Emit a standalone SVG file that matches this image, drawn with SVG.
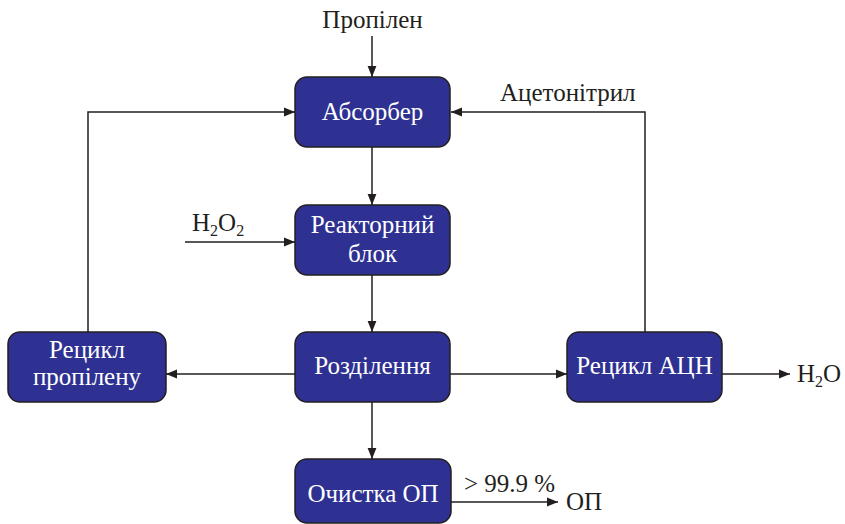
<svg xmlns="http://www.w3.org/2000/svg" width="845" height="524" viewBox="0 0 845 524">
<defs>
<marker id="ah" viewBox="0 0 10 10" refX="10" refY="5" markerWidth="11" markerHeight="11" markerUnits="userSpaceOnUse" orient="auto">
<path d="M0,1 L10,5 L0,9 Z" fill="#231f20"/>
</marker>
<style>
.box{fill:#2e3192;stroke:#231f20;stroke-width:1.5}
.ln{fill:none;stroke:#231f20;stroke-width:1.5;marker-end:url(#ah)}
</style>
</defs>
<rect width="845" height="524" fill="#ffffff"/>
<g id="connectors">
<path class="ln" d="M372,36 V77"/>
<path class="ln" d="M372,147 V205"/>
<path class="ln" d="M372,275 V332"/>
<path class="ln" d="M372,402 V459"/>
<path class="ln" d="M185,242 H295"/>
<path class="ln" d="M88,332 V112 H295"/>
<path class="ln" d="M645,332 V112 H451"/>
<path class="ln" d="M295,374 H166"/>
<path class="ln" d="M450,374 H567"/>
<path class="ln" d="M722,374 H790"/>
<path class="ln" d="M451,502 H558"/>
</g>
<g id="absorber">
<rect class="box" x="295" y="77" width="155" height="70" rx="12"/>
<text x="372.5" y="120" font-family="Liberation Serif" font-size="25" fill="#ffffff" text-anchor="middle">Абсорбер</text>
</g>
<g id="reactor">
<rect class="box" x="295" y="205" width="155" height="70" rx="12"/>
<text x="372.5" y="233" font-family="Liberation Serif" font-size="25" fill="#ffffff" text-anchor="middle">Реакторний</text>
<text x="372.5" y="262" font-family="Liberation Serif" font-size="25" fill="#ffffff" text-anchor="middle">блок</text>
</g>
<g id="separation">
<rect class="box" x="295" y="332" width="155" height="70" rx="12"/>
<text x="372.5" y="374" font-family="Liberation Serif" font-size="25" fill="#ffffff" text-anchor="middle">Розділення</text>
</g>
<g id="recycle-propylene">
<rect class="box" x="8" y="332" width="158" height="70" rx="12"/>
<text x="87" y="358" font-family="Liberation Serif" font-size="25" fill="#ffffff" text-anchor="middle">Рецикл</text>
<text x="87" y="385" font-family="Liberation Serif" font-size="25" fill="#ffffff" text-anchor="middle">пропілену</text>
</g>
<g id="recycle-acn">
<rect class="box" x="567" y="332" width="155" height="70" rx="12"/>
<text x="644.5" y="374" font-family="Liberation Serif" font-size="25" fill="#ffffff" text-anchor="middle">Рецикл АЦН</text>
</g>
<g id="purification">
<rect class="box" x="295" y="459" width="156" height="64" rx="12"/>
<text x="373" y="502" font-family="Liberation Serif" font-size="25" fill="#ffffff" text-anchor="middle">Очистка ОП</text>
</g>
<g id="labels">
<text x="372.5" y="28" text-anchor="middle" font-family="Liberation Serif" font-size="25" fill="#231f20">Пропілен</text>
<text x="500" y="101" font-family="Liberation Serif" font-size="25" fill="#231f20">Ацетонітрил</text>
<text x="192" y="231" font-family="Liberation Serif" font-size="25" fill="#231f20">H<tspan font-size="16" dy="5">2</tspan><tspan dy="-5">O</tspan><tspan font-size="16" dy="5">2</tspan></text>
<text x="797" y="382" font-family="Liberation Serif" font-size="25" fill="#231f20">H<tspan font-size="16" dy="5">2</tspan><tspan dy="-5">O</tspan></text>
<text x="464" y="492" font-family="Liberation Serif" font-size="25" fill="#231f20">&gt; 99.9 %</text>
<text x="566" y="510" font-family="Liberation Serif" font-size="25" fill="#231f20">ОП</text>
</g>
</svg>
